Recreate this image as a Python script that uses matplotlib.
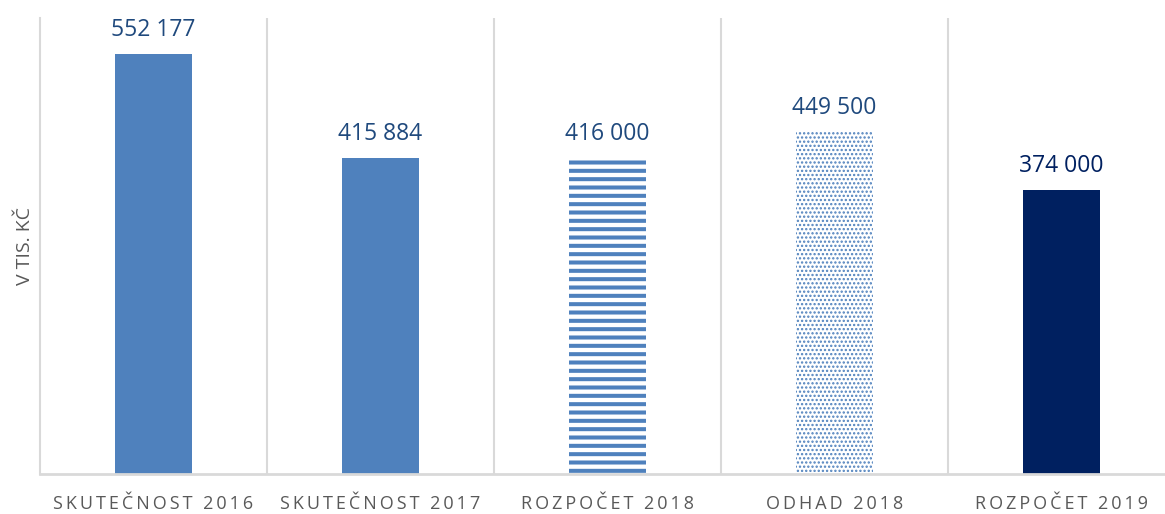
import matplotlib.pyplot as plt
import numpy as np

# data
categories = ['SKUTEČNOST 2016', 'SKUTEČNOST 2017', 'ROZPOČET 2018', 'ODHAD 2018', 'ROZPOČET 2019']
values = [552177, 415884, 416000, 449500, 374000]
value_labels = ['552 177', '415 884', '416 000', '449 500', '374 000']

# styles per bar: (face, hatch, hatch width, edge, label colour)
blue = '#4f81bd'
navy = '#002060'
styles = [
    (blue, None, 1.0, blue, '#1f497d'),
    (blue, None, 1.0, blue, '#1f497d'),
    ('white', '--', 2.9, blue, '#1f497d'),
    ('white', '....', 1.1, blue, '#1f497d'),
    (navy, None, 1.0, navy, navy),
]

plt.rcParams['font.family'] = ['Open Sans', 'DejaVu Sans']

fig = plt.figure(figsize=(11.65, 5.14), dpi=100)
# axes runs past the right edge of the figure, like the original crop
ax = fig.add_axes([40 / 1165, 40 / 514, 1135 / 1165, 456 / 514])

x = np.arange(len(categories))
for i, (v, (fc, hatch, hw, ec, lc)) in enumerate(zip(values, styles)):
    with plt.rc_context({'hatch.linewidth': hw}):
        bars = ax.bar(x[i], v, width=0.335, color=fc, hatch=hatch, edgecolor=ec, linewidth=0)
    for b in bars:
        if hasattr(b, 'set_hatch_linewidth'):
            b.set_hatch_linewidth(hw)
    ax.text(x[i], v + 16000, value_labels[i], ha='center', va='bottom',
            fontsize=16.5, color=lc)

ax.set_xlim(-0.5, len(categories) - 0.5)
ax.set_ylim(0, 600000)

# vertical separators between categories
ax.set_xticks(x[:-1] + 0.5, minor=True)
ax.grid(axis='x', which='minor', color='#d9d9d9', linewidth=1.5)
ax.set_axisbelow(True)

# letter spaced category labels (thin space between characters)
ax.set_xticks(x)
ax.set_xticklabels(['\u2009'.join(c) for c in categories], fontsize=13, color='#595959')
ax.tick_params(axis='x', which='both', length=0, pad=15)
ax.set_yticks([])

for s in ['top', 'right']:
    ax.spines[s].set_visible(False)
ax.spines['left'].set_color('#d9d9d9')
ax.spines['left'].set_linewidth(1.5)
ax.spines['bottom'].set_color('#d9d9d9')
ax.spines['bottom'].set_linewidth(2)

ax.set_ylabel('V TIS. KČ', fontsize=14, color='#595959', labelpad=4)

fig.savefig('out.png', dpi=100)
